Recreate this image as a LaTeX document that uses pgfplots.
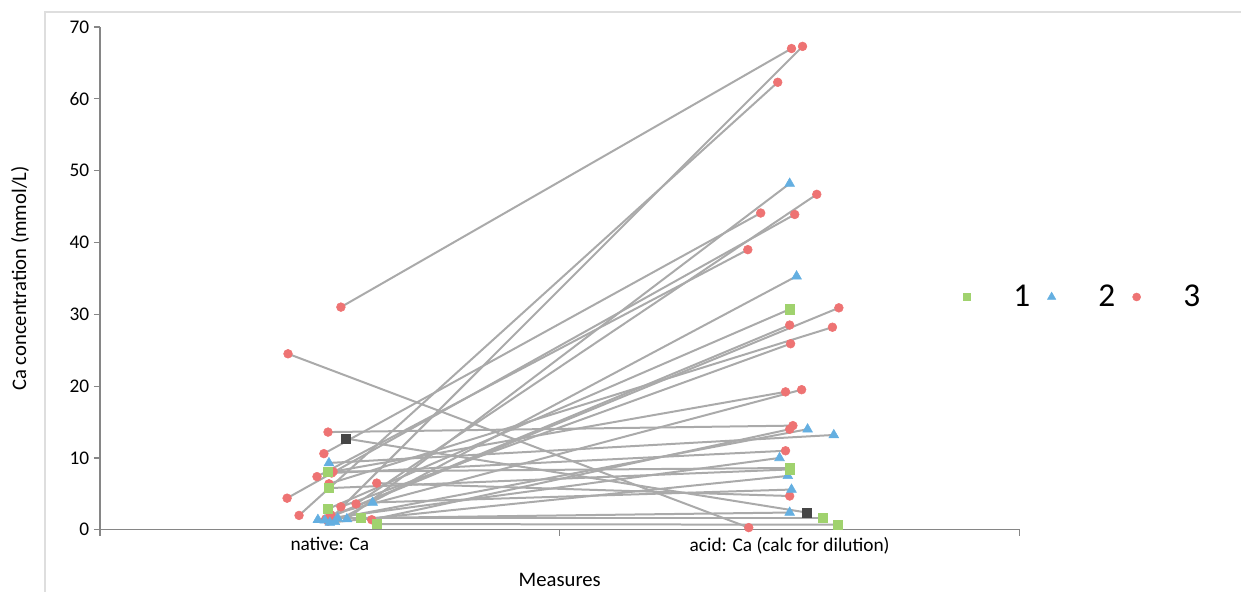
\documentclass[border=0pt]{standalone}
\usepackage{fontspec}
\setmainfont{Carlito}
\usepackage{pgfplots}
\usepackage{pgfplotstable}
\pgfplotsset{compat=1.18}

\definecolor{grpone}{RGB}{160,210,110}
\definecolor{grptwo}{RGB}{100,175,225}
\definecolor{grpthree}{RGB}{238,115,115}
\definecolor{grpfour}{RGB}{70,70,70}
\definecolor{pairline}{RGB}{170,170,170}
\definecolor{axisgray}{RGB}{134,134,134}
\definecolor{framegray}{RGB}{222,222,222}

% one row per sample: native (xn,yn) -> acid (xa,ya), g = group
\pgfplotstableread{
xn     yn    xa     ya    g
1.024  31.0  2.004  67.0  3
0.909  24.5  1.911  0.3   3
0.996  13.6  2.007  14.5  3
0.987  10.6  1.937  44.1  3
1.007  8.1   1.991  19.2  3
1.004  7.9   1.991  11.0  3
0.972  7.4   1.909  39.0  3
1.102  6.5   2.000  4.7   3
0.998  6.4   2.093  28.2  3
0.907  4.4   2.011  43.9  3
1.057  3.6   2.059  46.7  3
1.024  3.2   2.002  25.9  3
0.933  2.0   1.974  62.3  3
1.091  1.4   2.000  14.0  3
0.996  1.2   2.028  67.3  3
0.991  1.5   2.107  30.9  3
1.000  1.8   2.000  28.5  3
1.002  2.1   2.026  19.5  3
0.998  9.3   2.096  13.2  2
1.093  3.8   2.004  5.6   2
1.037  1.5   2.000  48.2  2
0.974  1.4   1.978  10.0  2
1.011  1.1   2.015  35.3  2
0.989  1.3   2.039  14.0  2
1.000  1.0   1.996  7.5   2
1.017  1.6   2.000  2.4   2
0.996  8.1   2.000  8.6   1
0.998  5.8   2.000  8.4   1
0.996  2.9   2.000  30.7  1
1.067  1.7   2.072  1.7   1
1.102  0.8   2.104  0.7   1
1.035  12.7  2.037  2.4   4
}\pairs

\pgfplotsset{
  grpmarks/.style={
    scatter, only marks, scatter src=explicit symbolic,
    scatter/classes={
      1={mark=square*, mark size=3.4pt, draw=grpone, fill=grpone},
      2={mark=triangle*, mark size=4.2pt, draw=grptwo, fill=grptwo},
      3={mark=*, mark size=3.3pt, draw=grpthree, fill=grpthree},
      4={mark=square*, mark size=3.4pt, draw=grpfour, fill=grpfour}},
    forget plot},
}

\begin{document}
\begin{tikzpicture}
\begin{axis}[
  at={(0,0)}, anchor=south west,
  scale only axis, width=690pt, height=377.25pt,
  xmin=0.5, xmax=2.5, ymin=0, ymax=70,
  axis x line=bottom, axis y line=left,
  axis line style={-, draw=axisgray, line width=0.9pt},
  tick style={draw=axisgray, line width=0.9pt},
  tick align=outside, major tick length=4.5pt,
  xtick={0.5,1.5,2.5}, xticklabels={},
  extra x ticks={1,2},
  extra x tick labels={native: Ca, acid: Ca (calc for dilution)},
  extra x tick style={major tick length=0pt, tick style={draw=none}},
  ytick={0,10,...,70},
  /pgf/number format/assume math mode=true,
  ticklabel style={font=\fontsize{14.5}{17}\selectfont},
  xticklabel style={yshift=-2pt},
  xlabel={Measures},
  ylabel={Ca concentration (mmol/L)},
  x label style={at={(axis description cs:0.5,-0.0994)}, anchor=center, font=\fontsize{15.5}{18}\selectfont},
  y label style={at={(axis description cs:-0.087,0.5)}, anchor=center, font=\fontsize{15.5}{18}\selectfont},
  clip=false,
  legend columns=-1,
  legend style={draw=none, fill=none, at={(0.934,0.463)}, anchor=west,
    font=\fontsize{25}{29}\selectfont,
    /tikz/every odd column/.append style={column sep=30pt},
    /tikz/every even column/.append style={column sep=11pt}},
  legend image code/.code={\draw[#1] plot coordinates {(0pt,0pt)};},
]
  \addplot[pairline, line width=1.5pt, no marks, forget plot,
    quiver={u=\thisrow{xa}-\thisrow{xn}, v=\thisrow{ya}-\thisrow{yn}}]
    table[x=xn, y=yn] {\pairs};
  \addplot[grpmarks] table[x=xn, y=yn, meta=g] {\pairs};
  \addplot[grpmarks] table[x=xa, y=ya, meta=g] {\pairs};

  \addlegendimage{only marks, mark=square*, mark size=2.8pt, draw=grpone, fill=grpone}
  \addlegendimage{only marks, mark=triangle*, mark size=3.6pt, draw=grptwo, fill=grptwo}
  \addlegendimage{only marks, mark=*, mark size=3pt, draw=grpthree, fill=grpthree}
  \legend{1,2,3}
\end{axis}
\draw[framegray, line width=0.8pt] (-41.25pt,-46.5pt) -- (-41.25pt,388.5pt) -- (856.5pt,388.5pt);
\path (-75pt,-46.5pt) rectangle (856.5pt,397.5pt);
\end{tikzpicture}
\end{document}
